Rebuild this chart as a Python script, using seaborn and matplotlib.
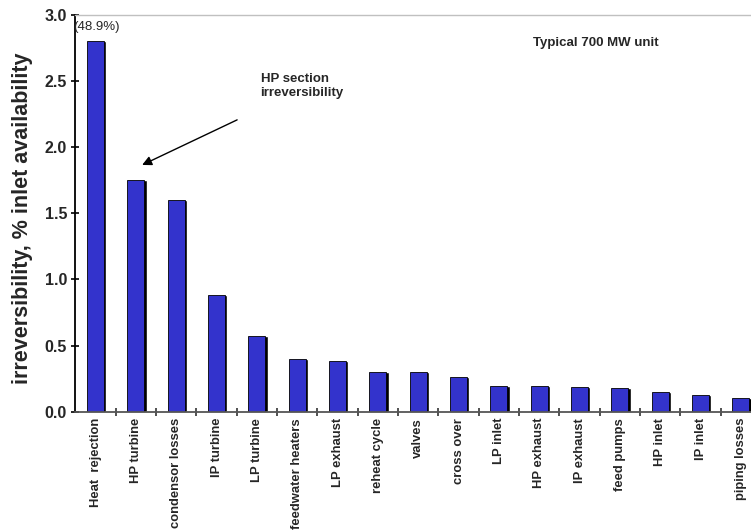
import matplotlib
matplotlib.use("Agg")
import matplotlib.pyplot as plt
import seaborn as sns
import numpy as np
import pandas as pd

# data
categories = ["Heat  rejection", "HP turbine", "condensor losses", "IP turbine",
              "LP turbine", "feedwater heaters", "LP exhaust", "reheat cycle",
              "valves", "cross over", "LP inlet", "HP exhaust", "IP exhaust",
              "feed pumps", "HP inlet", "IP inlet", "piping losses"]
values = [2.80, 1.75, 1.60, 0.88, 0.57, 0.40, 0.38, 0.30,
          0.30, 0.26, 0.195, 0.195, 0.185, 0.177, 0.147, 0.126, 0.10]
y_ticks = [0.0, 0.5, 1.0, 1.5, 2.0, 2.5, 3.0]

df = pd.DataFrame({"component": categories, "irreversibility": values})

sns.set_theme(style="white")
plt.rcParams["font.family"] = ["Liberation Sans", "DejaVu Sans"]

fig = plt.figure(figsize=(7.51, 5.31), dpi=100)
# axes runs past the right edge of the figure, as in the original slide
ax = fig.add_axes([75.4 / 751, 119.3 / 531, 685.6 / 751, 396.7 / 531])

bar_w = 0.42
# black drop shadow on the right of each bar
ax.bar(np.arange(len(values)) + 0.06, df["irreversibility"], width=bar_w,
       color="black", zorder=1)
sns.barplot(data=df, x="component", y="irreversibility", color="#3333cc",
            saturation=1, width=bar_w, edgecolor="black", linewidth=0.6,
            ax=ax, zorder=2)

ax.set_xlim(-0.5, len(values) - 0.5)
ax.set_ylim(0, 3.0)
ax.set_yticks(y_ticks)
ax.set_yticklabels([f"{t:.1f}" for t in y_ticks], fontsize=11.5, fontweight="bold")

# labels centred under bars, tick marks between categories
ax.set_xticks(np.arange(len(values)))
ax.set_xticklabels(categories, rotation=90, fontsize=9.4, fontweight="bold",
                   va="top", ha="center")
ax.set_xticks(np.arange(0.5, len(values) - 0.5, 1), minor=True)
ax.tick_params(axis="x", which="major", length=0, pad=4.5)
ax.tick_params(axis="x", which="minor", direction="inout", length=6, width=1.2,
               color="#333333", bottom=True)
ax.tick_params(axis="y", direction="inout", length=6, width=1.2, color="black",
               pad=3, left=True)

ax.set_xlabel("")
ax.set_ylabel("irreversibility, % inlet availability", fontsize=15.5,
              fontweight="bold")
ax.yaxis.set_label_coords(-0.062, 0.488)

ax.spines["left"].set_color("black")
ax.spines["left"].set_linewidth(1.3)
ax.spines["bottom"].set_color("#555555")
ax.spines["bottom"].set_linewidth(1.3)
ax.spines["top"].set_color("#c0c0c0")
ax.spines["top"].set_linewidth(1)
ax.spines["right"].set_visible(False)

# annotations
ax.text(-0.557, 2.91, "(48.9%)", fontsize=9.5, ha="left", va="center")
ax.text(10.84, 2.79, "Typical 700 MW unit", fontsize=9.5, fontweight="bold",
        ha="left", va="center")
ax.text(4.09, 2.56, "HP section\nirreversibility", fontsize=9.5,
        fontweight="bold", ha="left", va="top")
ax.annotate("", xy=(1.155, 1.866), xytext=(3.51, 2.207),
            arrowprops=dict(arrowstyle="-|>", color="black", lw=1,
                            mutation_scale=14, shrinkA=0, shrinkB=0))

fig.savefig("out.png", dpi=100)
